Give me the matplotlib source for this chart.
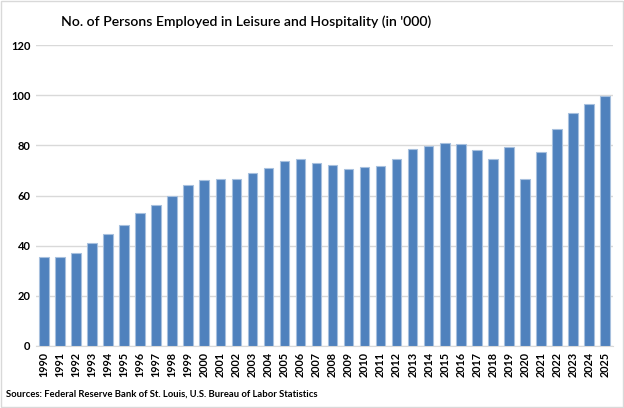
import matplotlib
matplotlib.use("Agg")
import matplotlib.pyplot as plt
import numpy as np

years = [str(y) for y in range(1990, 2026)]
employed = [35.6, 35.4, 37.1, 40.9, 44.7, 48.3, 52.9, 56.2, 59.8, 64.2,
            66.1, 66.5, 66.5, 69.1, 71.0, 73.9, 74.4, 73.0, 72.0, 70.6,
            71.2, 71.6, 74.6, 78.5, 79.6, 81.1, 80.5, 78.1, 74.6, 79.3,
            66.7, 77.2, 86.7, 92.8, 96.6, 99.5]
yticks = [0, 20, 40, 60, 80, 100, 120]

plt.rcParams['font.family'] = ['Lato', 'DejaVu Sans']

fig = plt.figure(figsize=(6.24, 4.08), dpi=100)
ax = fig.add_axes([36 / 624, 1 - 346 / 408, 577 / 624, 301 / 408])

x = np.arange(len(years))
ax.bar(x, employed, width=0.6, color='#4F81BD', edgecolor='#A7C0DE',
       linewidth=0.8, zorder=3)

ax.set_xlim(-0.5, len(years) - 0.5)
ax.set_ylim(0, 120)
ax.set_yticks(yticks)
ax.set_yticklabels([str(t) for t in yticks], fontsize=8, fontweight='bold')
ax.set_xticks(x)
ax.set_xticklabels(years, rotation=90, fontsize=7.8, fontweight='bold')
ax.tick_params(length=0, pad=4)
ax.yaxis.grid(True, color='#D9D9D9', linewidth=1, zorder=0)
for s in ['top', 'right', 'left']:
    ax.spines[s].set_visible(False)
ax.spines['bottom'].set_color('#D9D9D9')

fig.text(246 / 624, 1 - 22 / 408,
         "No. of Persons Employed in Leisure and Hospitality (in '000)",
         ha='center', va='center', fontsize=10.1, fontweight='semibold')
fig.text(6 / 624, 1 - 394 / 408,
         "Sources: Federal Reserve Bank of St. Louis, U.S. Bureau of Labor Statistics",
         ha='left', va='center', fontsize=6.8, fontweight='bold')

fig.patches.append(plt.Rectangle((0.001, 0.002), 0.997, 0.995, transform=fig.transFigure,
                                 fill=False, edgecolor='#D9D9D9', linewidth=1))

fig.savefig('out.png', dpi=100)
